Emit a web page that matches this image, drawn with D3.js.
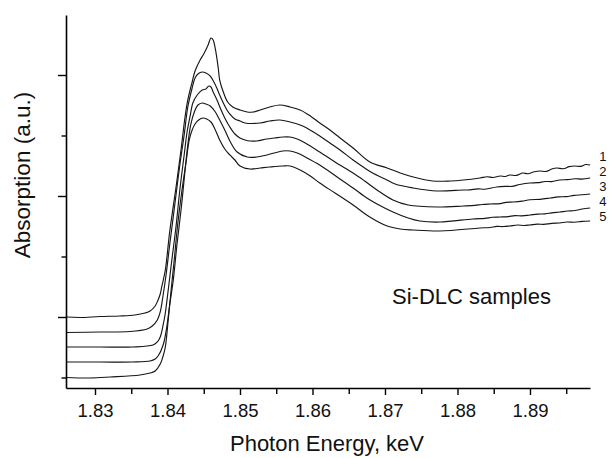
<!DOCTYPE html>
<html>
<head>
<meta charset="utf-8">
<script src="https://cdn.jsdelivr.net/npm/d3@7"></script>
<style>
  html, body { margin: 0; padding: 0; background: #fff; }
  svg { display: block; font-family: "Liberation Sans", Arial, Helvetica, sans-serif; }
</style>
</head>
<body>
<svg id="chart" width="610" height="458"></svg>
<script>
// ---------- data ----------
const xMajorTicks = [1.83, 1.84, 1.85, 1.86, 1.87, 1.88, 1.89];
const xMinorTicks = [1.835, 1.845, 1.855, 1.865, 1.875, 1.885, 1.895];
const yMajorTicks = [2, 4, 6];
const yMinorTicks = [1, 3, 5];
const sampleLabels = ["1", "2", "3", "4", "5"];

const energy1 = [1.8260,1.8279,1.8307,1.8334,1.8355,1.8369,1.8376,1.8383,1.8387,1.8390,1.8392,1.8397,1.8403,1.8412,1.8419,1.8424,1.8428,1.8434,1.8438,1.8445,1.8450,1.8456,1.8460,1.8463,1.8466,1.8470,1.8472,1.8477,1.8483,1.8490,1.8500,1.8510,1.8518,1.8528,1.8541,1.8555,1.8569,1.8583,1.8597,1.8610,1.8624,1.8638,1.8656,1.8679,1.8703,1.8721,1.8739,1.8766,1.8790,1.8808,1.8831,1.8841,1.8849,1.8859,1.8866,1.8872,1.8881,1.8890,1.8897,1.8906,1.8914,1.8922,1.8930,1.8937,1.8946,1.8954,1.8962,1.8970,1.8977,1.8983];
const absorption1 = [2.000,1.992,2.008,2.017,2.033,2.066,2.099,2.182,2.281,2.380,2.496,2.777,3.405,4.165,4.793,5.289,5.587,5.884,6.066,6.248,6.347,6.496,6.612,6.579,6.430,6.116,5.917,5.719,5.554,5.471,5.421,5.388,5.388,5.421,5.471,5.504,5.471,5.421,5.322,5.207,5.091,4.959,4.793,4.562,4.463,4.380,4.314,4.248,4.248,4.264,4.298,4.318,4.305,4.330,4.322,4.347,4.340,4.380,4.368,4.400,4.413,4.405,4.445,4.463,4.450,4.485,4.496,4.490,4.520,4.512];

const energy2 = [1.8260,1.8307,1.8348,1.8372,1.8379,1.8386,1.8390,1.8394,1.8398,1.8403,1.8410,1.8417,1.8423,1.8428,1.8434,1.8438,1.8442,1.8448,1.8453,1.8459,1.8464,1.8468,1.8472,1.8477,1.8482,1.8486,1.8493,1.8500,1.8507,1.8528,1.8541,1.8555,1.8569,1.8583,1.8592,1.8610,1.8624,1.8638,1.8656,1.8672,1.8683,1.8700,1.8714,1.8739,1.8772,1.8808,1.8817,1.8828,1.8838,1.8854,1.8866,1.8875,1.8886,1.8900,1.8911,1.8921,1.8930,1.8941,1.8952,1.8962,1.8972,1.8983];
const absorption2 = [1.744,1.752,1.760,1.802,1.851,1.950,2.083,2.364,2.694,3.190,3.851,4.512,5.008,5.471,5.785,5.950,6.017,6.050,6.033,5.983,5.884,5.785,5.669,5.537,5.421,5.355,5.273,5.240,5.207,5.207,5.240,5.256,5.223,5.174,5.124,4.992,4.876,4.760,4.595,4.463,4.380,4.281,4.198,4.132,4.083,4.099,4.100,4.118,4.112,4.149,4.160,4.158,4.190,4.215,4.220,4.240,4.238,4.264,4.270,4.285,4.280,4.298];

const energy3 = [1.8260,1.8307,1.8352,1.8380,1.8386,1.8390,1.8394,1.8397,1.8401,1.8406,1.8412,1.8417,1.8423,1.8427,1.8431,1.8435,1.8441,1.8448,1.8453,1.8457,1.8460,1.8463,1.8467,1.8470,1.8474,1.8479,1.8486,1.8493,1.8500,1.8507,1.8514,1.8523,1.8537,1.8548,1.8559,1.8569,1.8579,1.8590,1.8610,1.8631,1.8656,1.8672,1.8689,1.8711,1.8732,1.8772,1.8808,1.8824,1.8834,1.8845,1.8859,1.8867,1.8877,1.8889,1.8900,1.8914,1.8928,1.8939,1.8950,1.8961,1.8972,1.8983];
const absorption3 = [1.504,1.504,1.504,1.537,1.587,1.669,1.868,2.066,2.446,2.942,3.521,4.099,4.678,5.058,5.306,5.537,5.669,5.752,5.769,5.818,5.802,5.719,5.620,5.537,5.421,5.289,5.140,5.025,4.959,4.926,4.909,4.909,4.942,4.959,4.975,4.975,4.942,4.876,4.727,4.562,4.380,4.248,4.099,3.934,3.851,3.818,3.835,3.845,3.860,3.868,3.875,3.895,3.901,3.915,3.938,3.945,3.967,3.985,3.990,4.010,4.020,4.033];

const energy4 = [1.8260,1.8307,1.8352,1.8376,1.8383,1.8387,1.8394,1.8399,1.8403,1.8408,1.8413,1.8419,1.8424,1.8428,1.8432,1.8437,1.8442,1.8448,1.8453,1.8459,1.8466,1.8472,1.8479,1.8486,1.8496,1.8510,1.8523,1.8537,1.8559,1.8569,1.8579,1.8590,1.8610,1.8634,1.8656,1.8675,1.8689,1.8711,1.8732,1.8748,1.8776,1.8821,1.8838,1.8848,1.8859,1.8870,1.8879,1.8889,1.8900,1.8911,1.8921,1.8930,1.8941,1.8952,1.8962,1.8972,1.8983];
const absorption4 = [1.256,1.256,1.256,1.273,1.306,1.355,1.537,1.835,2.198,2.612,3.190,3.802,4.397,4.843,5.174,5.388,5.504,5.537,5.521,5.488,5.388,5.256,5.091,4.909,4.727,4.645,4.645,4.678,4.744,4.744,4.711,4.645,4.512,4.314,4.132,3.967,3.868,3.736,3.636,3.587,3.570,3.620,3.630,3.648,3.653,3.660,3.675,3.672,3.686,3.700,3.705,3.722,3.736,3.752,3.760,3.785,3.802];

const energy5 = [1.8260,1.8293,1.8321,1.8362,1.8376,1.8383,1.8390,1.8394,1.8397,1.8401,1.8405,1.8409,1.8414,1.8420,1.8426,1.8430,1.8434,1.8438,1.8443,1.8449,1.8454,1.8460,1.8466,1.8472,1.8479,1.8486,1.8493,1.8500,1.8514,1.8528,1.8541,1.8559,1.8569,1.8583,1.8597,1.8610,1.8631,1.8656,1.8679,1.8703,1.8721,1.8739,1.8776,1.8831,1.8845,1.8854,1.8863,1.8872,1.8883,1.8892,1.8900,1.8910,1.8919,1.8930,1.8941,1.8951,1.8961,1.8972,1.8983];
const absorption5 = [1.000,0.992,1.008,1.041,1.074,1.107,1.223,1.355,1.504,1.950,2.446,2.909,3.521,4.099,4.595,4.926,5.091,5.190,5.256,5.289,5.273,5.223,5.091,4.926,4.777,4.678,4.595,4.496,4.446,4.463,4.479,4.496,4.496,4.430,4.331,4.215,4.050,3.851,3.653,3.504,3.455,3.438,3.421,3.471,3.480,3.497,3.495,3.504,3.520,3.512,3.521,3.535,3.532,3.548,3.554,3.570,3.566,3.580,3.587];

// ---------- layout ----------
const svg = d3.select("#chart");
const plotLeft = 66, plotRight = 590, plotTop = 15, plotBottom = 388;
const fontFam = '"Liberation Sans", Arial, Helvetica, sans-serif';

const x = d3.scaleLinear().domain([1.826, 1.89828]).range([plotLeft, plotRight]);
const y = d3.scaleLinear().domain([0.8264, 6.9917]).range([plotBottom, plotTop]);

const series = [
  [energy1, absorption1],
  [energy2, absorption2],
  [energy3, absorption3],
  [energy4, absorption4],
  [energy5, absorption5]
].map(([e, a]) => d3.range(Math.min(e.length, a.length)).map(i => ({ e: e[i], a: a[i] })));

const line = d3.line()
  .x(d => x(d.e))
  .y(d => y(d.a))
  .curve(d3.curveCatmullRom.alpha(0.5));

svg.append("g")
  .selectAll("path")
  .data(series)
  .join("path")
  .attr("d", line)
  .attr("fill", "none")
  .attr("stroke", "#161616")
  .attr("stroke-width", 1.15)
  .attr("stroke-linejoin", "round");

// ---------- axes ----------
const xAxisMajor = svg.append("g")
  .attr("transform", `translate(0,${plotBottom})`)
  .call(d3.axisBottom(x).tickValues(xMajorTicks).tickSize(7).tickSizeOuter(0).tickPadding(9).tickFormat(d3.format(".2f")));
xAxisMajor.select(".domain").attr("stroke", "#000").attr("stroke-width", 1.6);
xAxisMajor.selectAll(".tick line").attr("stroke", "#000").attr("stroke-width", 1.4);
xAxisMajor.selectAll(".tick text").attr("font-size", 18.5).attr("font-family", fontFam).attr("fill", "#111");

const xAxisMinor = svg.append("g")
  .attr("transform", `translate(0,${plotBottom})`)
  .call(d3.axisBottom(x).tickValues(xMinorTicks).tickSize(6).tickSizeOuter(0).tickFormat(""));
xAxisMinor.select(".domain").remove();
xAxisMinor.selectAll(".tick line").attr("stroke", "#000").attr("stroke-width", 1.4);

const yAxisMajor = svg.append("g")
  .attr("transform", `translate(${plotLeft},0)`)
  .call(d3.axisLeft(y).tickValues(yMajorTicks).tickSize(8).tickSizeOuter(0).tickFormat(""));
yAxisMajor.select(".domain").attr("stroke", "#000").attr("stroke-width", 1.6);
yAxisMajor.selectAll(".tick line").attr("stroke", "#000").attr("stroke-width", 1.4);

const yAxisMinor = svg.append("g")
  .attr("transform", `translate(${plotLeft},0)`)
  .call(d3.axisLeft(y).tickValues(yMinorTicks).tickSize(4.5).tickSizeOuter(0).tickFormat(""));
yAxisMinor.select(".domain").remove();
yAxisMinor.selectAll(".tick line").attr("stroke", "#000").attr("stroke-width", 1.4);

// ---------- titles ----------
svg.append("text")
  .attr("x", 327).attr("y", 451)
  .attr("text-anchor", "middle")
  .attr("font-size", 22)
  .attr("fill", "#111")
  .text("Photon Energy, keV");

svg.append("text")
  .attr("transform", "translate(30,175) rotate(-90)")
  .attr("text-anchor", "middle")
  .attr("font-size", 22.5)
  .attr("fill", "#111")
  .text("Absorption (a.u.)");

svg.append("text")
  .attr("x", 392).attr("y", 304)
  .attr("font-size", 22)
  .attr("fill", "#111")
  .text("Si-DLC samples");

// ---------- curve labels ----------
svg.append("g")
  .selectAll("text")
  .data(series)
  .join("text")
  .attr("x", d => x(d[d.length - 1].e) + 9)
  .attr("y", (d, i) => y(series[0][series[0].length - 1].a) - 9 + i * 15)
  .attr("dy", "0.35em")
  .attr("font-size", 13)
  .attr("fill", "#111")
  .text((d, i) => sampleLabels[i]);
</script>
</body>
</html>
